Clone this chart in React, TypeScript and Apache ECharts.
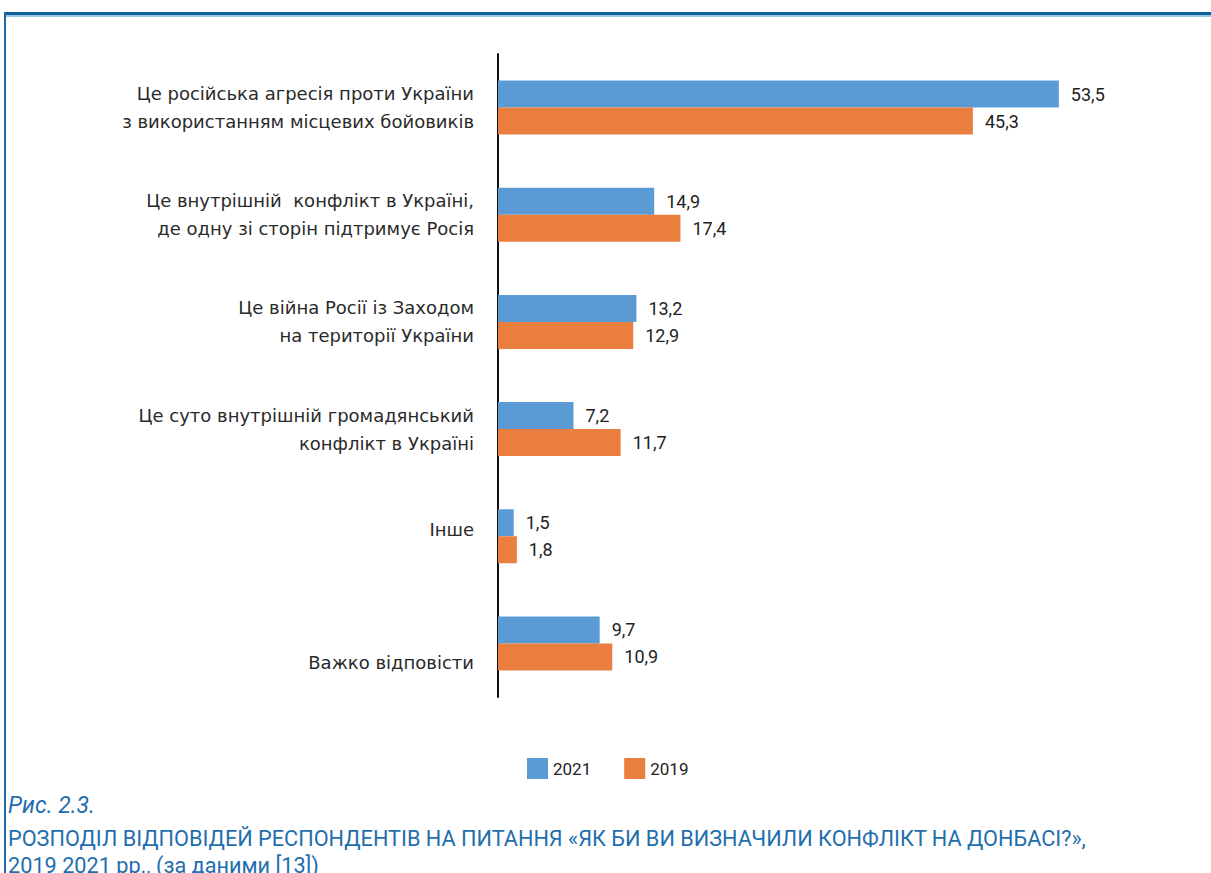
import React, { useEffect, useRef } from "react";
import * as echarts from "echarts";

const categories = [
  "Це російська агресія проти України\nз використанням місцевих бойовиків",
  "Це внутрішній  конфлікт в Україні,\nде одну зі сторін підтримує Росія",
  "Це війна Росії із Заходом\nна території України",
  "Це суто внутрішній громадянський\nконфлікт в Україні",
  "Інше",
  "Важко відповісти",
];
const values2021 = [53.5, 14.9, 13.2, 7.2, 1.5, 9.7];
const values2019 = [45.3, 17.4, 12.9, 11.7, 1.8, 10.9];
const seriesNames = ["2021", "2019"];

const captionLines = [
  "Рис. 2.3.",
  "РОЗПОДІЛ ВІДПОВІДЕЙ РЕСПОНДЕНТІВ НА ПИТАННЯ «ЯК БИ ВИ ВИЗНАЧИЛИ КОНФЛІКТ НА ДОНБАСІ?»,",
  "2019 2021 рр., (за даними [13])",
];

const BLUE = "#5b9bd5";
const ORANGE = "#e97e3e";
const CAPTION = "#1f6eae";
const NARROW = "'Roboto', sans-serif";
const LABEL_FONT = "'DejaVu Sans', sans-serif";

export default function App() {
  const ref = useRef<HTMLDivElement>(null);
  useEffect(() => {
    if (!ref.current) return;
    const chart = echarts.init(ref.current, null, { renderer: "svg" });
    const valueLabel = {
      show: true,
      position: "right" as const,
      distance: 12,
      fontFamily: NARROW,
      fontSize: 18,
      color: "#222",
      formatter: (p: any) => String(p.value).replace(".", ","),
    };
    chart.setOption({
      animation: false,
      backgroundColor: "#fff",
      grid: { left: 498, top: 54, height: 643, width: 629 },
      xAxis: { type: "value", min: 0, max: 60, show: false },
      yAxis: {
        type: "category",
        data: categories,
        inverse: true,
        axisLine: { show: true, lineStyle: { color: "#111", width: 2 } },
        axisTick: { show: false },
        axisLabel: {
          margin: 24,
          fontFamily: LABEL_FONT,
          fontSize: 18,
          lineHeight: 28,
          color: "#2a2a2a",
          align: "right",
          formatter: (v: string) => {
            if (v === "Інше") return "{up|" + v + "}";
            if (v === "Важко відповісти") return "{down|" + v + "}";
            return v;
          },
          rich: {
            up: {
              fontFamily: LABEL_FONT,
              fontSize: 18,
              color: "#2a2a2a",
              padding: [0, 0, 14, 0],
            },
            down: {
              fontFamily: LABEL_FONT,
              fontSize: 18,
              color: "#2a2a2a",
              padding: [38, 0, 0, 0],
            },
          },
        },
      },
      legend: {
        left: 527,
        top: 758,
        padding: 0,
        itemWidth: 21,
        itemHeight: 21,
        itemGap: 33,
        icon: "rect",
        textStyle: { fontFamily: NARROW, fontSize: 17, color: "#222" },
        data: seriesNames,
      },
      series: [
        {
          name: seriesNames[0],
          type: "bar",
          data: values2021,
          barWidth: 27,
          barGap: "0%",
          itemStyle: { color: BLUE },
          label: valueLabel,
        },
        {
          name: seriesNames[1],
          type: "bar",
          data: values2019,
          barWidth: 27,
          barGap: "0%",
          itemStyle: { color: ORANGE },
          label: valueLabel,
        },
      ],
      graphic: [
        { type: "rect", shape: { x: 4, y: 12, width: 1207, height: 3 }, style: { fill: "#0d5f9c" } },
        { type: "rect", shape: { x: 4, y: 15, width: 1207, height: 2 }, style: { fill: "#9cc8e8" } },
        { type: "rect", shape: { x: 4, y: 12, width: 2, height: 861 }, style: { fill: "#1d6aa8" } },
        {
          type: "text",
          left: 8,
          top: 794,
          style: { text: captionLines[0], font: "italic 23px 'Roboto', sans-serif", fill: CAPTION },
        },
        {
          type: "text",
          left: 8,
          top: 827,
          style: { text: captionLines[1], font: "21.7px 'Roboto', sans-serif", fill: CAPTION },
        },
        {
          type: "text",
          left: 8,
          top: 854,
          style: { text: captionLines[2], font: "21.7px 'Roboto', sans-serif", fill: CAPTION },
        },
      ],
    });
    return () => chart.dispose();
  }, []);
  return (
    <div
      ref={ref}
      style={{ position: "absolute", left: 0, top: 0, width: 1211, height: 873, background: "#fff" }}
    />
  );
}
